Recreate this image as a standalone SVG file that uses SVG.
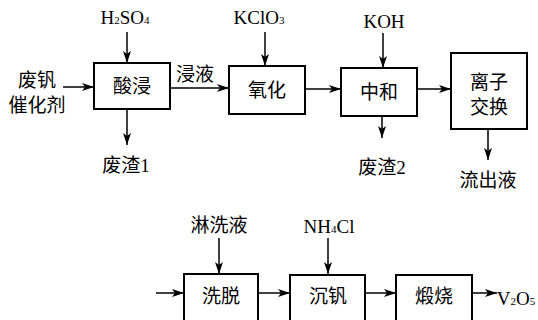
<svg xmlns="http://www.w3.org/2000/svg" width="538" height="320" viewBox="0 0 538 320">
<style>
.box{fill:#fff;stroke:#000;stroke-width:2}
.ln{stroke:#000;stroke-width:1.5;fill:none;marker-end:url(#ah)}
text{font-family:"Liberation Serif","Noto Sans CJK SC",serif;font-size:19px;fill:#000;text-anchor:middle}
.cn{font-size:19px}
.sub{font-size:11px}
</style>
<defs>
<marker id="ah" viewBox="0 0 12 8" refX="12" refY="4" markerWidth="12" markerHeight="8" markerUnits="userSpaceOnUse" orient="auto">
<path d="M0,0 L12,4 L0,8 L3,4 Z" fill="#000"/>
</marker>
</defs>
<rect width="538" height="320" fill="#fff"/>
<g id="connectors">
<line class="ln" x1="127" y1="32" x2="127" y2="63"/>
<line class="ln" x1="63" y1="87" x2="94" y2="87"/>
<line class="ln" x1="171" y1="88" x2="229" y2="88"/>
<line class="ln" x1="127" y1="109" x2="127" y2="145"/>
<line class="ln" x1="265" y1="32" x2="265" y2="66"/>
<line class="ln" x1="306" y1="89" x2="341" y2="89"/>
<line class="ln" x1="383" y1="33" x2="383" y2="68"/>
<line class="ln" x1="382" y1="116" x2="382" y2="138"/>
<line class="ln" x1="418" y1="89" x2="451" y2="89"/>
<line class="ln" x1="488" y1="129" x2="488" y2="160"/>
<line class="ln" x1="156" y1="293" x2="184" y2="293"/>
<line class="ln" x1="219" y1="238" x2="219" y2="274"/>
<line class="ln" x1="259" y1="293" x2="290" y2="293"/>
<line class="ln" x1="328" y1="238" x2="328" y2="274"/>
<line class="ln" x1="366" y1="293" x2="396" y2="293"/>
<line class="ln" x1="473" y1="293" x2="497" y2="293"/>
</g>
<g id="n-input"><text x="37" y="87">废钒</text><text x="37" y="112">催化剂</text></g>
<g id="n-h2so4"><text x="125" y="24">H<tspan class="sub">2</tspan>SO<tspan class="sub">4</tspan></text></g>
<g id="n-suanjin"><rect class="box" x="94" y="63" width="76" height="46"/><text x="132" y="93">酸浸</text></g>
<g id="n-jinye"><text x="195" y="81">浸液</text></g>
<g id="n-fz1"><text x="126" y="172">废渣1</text></g>
<g id="n-kclo3"><text x="259" y="24">KClO<tspan class="sub">3</tspan></text></g>
<g id="n-yanghua"><rect class="box" x="229" y="66" width="76" height="48"/><text x="267" y="97">氧化</text></g>
<g id="n-koh"><text x="384" y="28">KOH</text></g>
<g id="n-zhonghe"><rect class="box" x="341" y="68" width="76" height="48"/><text x="379" y="99">中和</text></g>
<g id="n-fz2"><text x="382" y="174">废渣2</text></g>
<g id="n-lizi"><rect class="box" x="451" y="53" width="76" height="76"/><text x="489" y="89">离子</text><text x="489" y="114">交换</text></g>
<g id="n-liuchu"><text x="488" y="187">流出液</text></g>
<g id="n-linxi"><text x="219" y="232">淋洗液</text></g>
<g id="n-xituo"><rect class="box" x="184" y="274" width="74" height="50"/><text x="221" y="303">洗脱</text></g>
<g id="n-nh4cl"><text x="329" y="233">NH<tspan class="sub">4</tspan>Cl</text></g>
<g id="n-chenfan"><rect class="box" x="290" y="275" width="75" height="50"/><text x="328" y="303">沉钒</text></g>
<g id="n-duanshao"><rect class="box" x="396" y="275" width="76" height="50"/><text x="434" y="303">煅烧</text></g>
<g id="n-v2o5"><text x="516" y="305">V<tspan class="sub">2</tspan>O<tspan class="sub">5</tspan></text></g>
</svg>
